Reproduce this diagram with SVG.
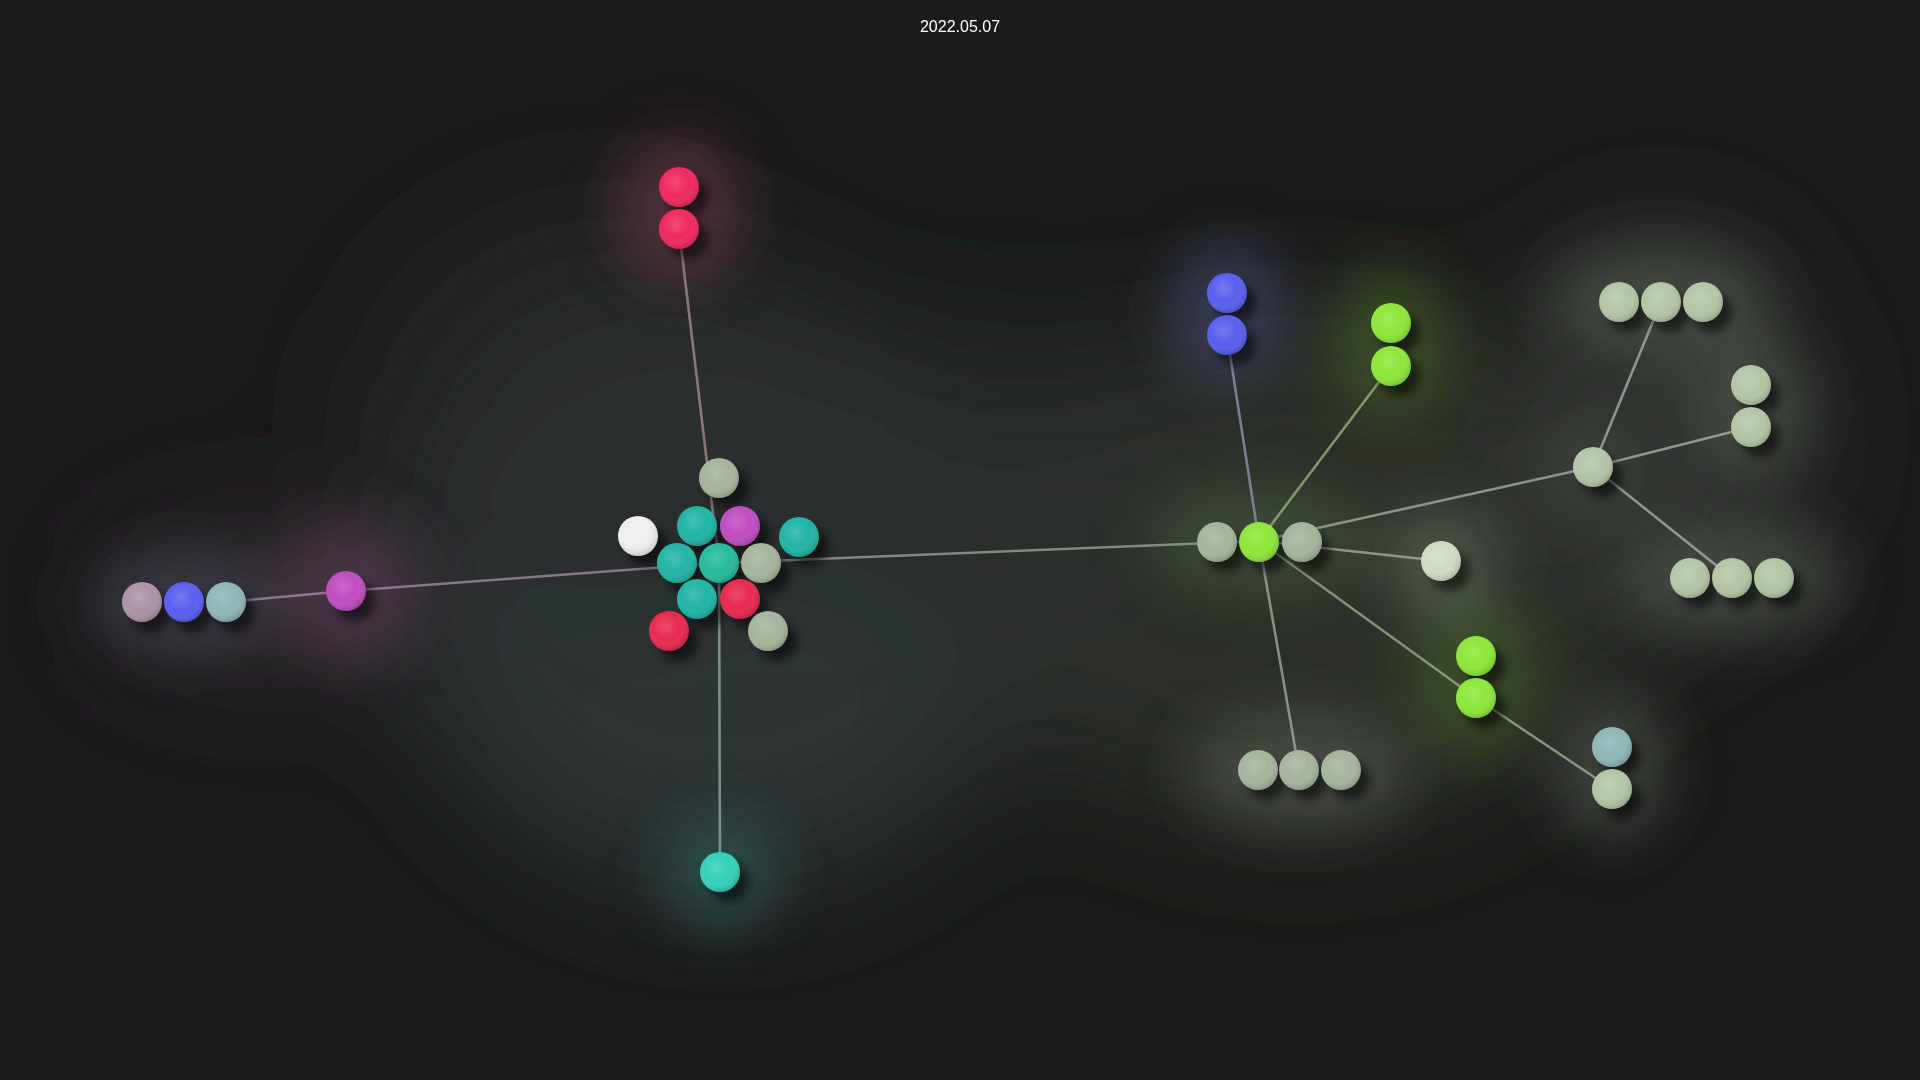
<svg xmlns="http://www.w3.org/2000/svg" width="1920" height="1080" viewBox="0 0 1920 1080">
<defs>
<filter id="bigblur" x="-100%" y="-100%" width="300%" height="300%"><feGaussianBlur stdDeviation="70"/></filter>
<filter id="glow" x="-100%" y="-100%" width="300%" height="300%"><feGaussianBlur stdDeviation="28"/></filter>
<filter id="shadow" x="-50%" y="-50%" width="200%" height="200%"><feGaussianBlur stdDeviation="5"/></filter>
<radialGradient id="shade" cx="0.42" cy="0.38" r="0.62">
<stop offset="0" stop-color="#ffffff" stop-opacity="0.16"/>
<stop offset="0.55" stop-color="#ffffff" stop-opacity="0"/>
<stop offset="1" stop-color="#000000" stop-opacity="0.15"/>
</radialGradient>
</defs>
<style>
.title{font-family:"Liberation Sans",Arial,sans-serif;font-size:16px;fill:#ffffff;}
.link{stroke-width:2.6;stroke-linecap:round;fill:none;opacity:0.8}
.sh{fill:#000;opacity:0.55;filter:url(#shadow)}
.ov{fill:url(#shade)}
.g{fill:#a5b59c}
.lg{fill:#b3c6a6}
.teal{fill:#22b5a6}
.tealc{fill:#27bb9e}
.mag{fill:#c04dc2}
.red{fill:#e82a50}
.pink{fill:#f02a5e}
.white{fill:#efefef}
.blue{fill:#5a5ff0}
.lime{fill:#8ee83a}
.pale{fill:#cfdcc4}
.pg{fill:#ad93a8}
.tg{fill:#8fb6b6}
.tb{fill:#33d1bb}
</style>
<rect width="1920" height="1080" fill="#1b1b1b"/>
<g filter="url(#bigblur)">
<ellipse cx="720" cy="590" rx="320" ry="300" fill="#313636" opacity="0.9"/>
<ellipse cx="600" cy="420" rx="250" ry="220" fill="#2b2f2f" opacity="0.6"/>
<ellipse cx="1300" cy="570" rx="340" ry="260" fill="#2e342c" opacity="0.85"/>
<ellipse cx="1000" cy="500" rx="200" ry="180" fill="#2a2f2b" opacity="0.6"/>
<ellipse cx="1660" cy="430" rx="150" ry="200" fill="#343834" opacity="0.8"/>
<ellipse cx="260" cy="600" rx="170" ry="80" fill="#2e292e" opacity="0.8"/>
</g>
<g filter="url(#glow)">
<ellipse cx="679" cy="208" rx="60" ry="70" fill="#7a3a4e" opacity="0.55"/>
<circle cx="346" cy="591" r="70" fill="#6a4060" opacity="0.5"/>
<ellipse cx="184" cy="602" rx="90" ry="50" fill="#4a4a58" opacity="0.6"/>
<ellipse cx="1227" cy="314" rx="55" ry="70" fill="#474e80" opacity="0.55"/>
<ellipse cx="1391" cy="345" rx="60" ry="75" fill="#4a6a2a" opacity="0.55"/>
<ellipse cx="1476" cy="677" rx="65" ry="80" fill="#4a6a2a" opacity="0.5"/>
<circle cx="720" cy="872" r="55" fill="#2f6a62" opacity="0.55"/>
<circle cx="1441" cy="561" r="55" fill="#6a7466" opacity="0.55"/>
<ellipse cx="1299" cy="770" rx="110" ry="55" fill="#5a6058" opacity="0.6"/>
<ellipse cx="1661" cy="302" rx="110" ry="55" fill="#5a6058" opacity="0.55"/>
<ellipse cx="1751" cy="406" rx="55" ry="70" fill="#5a6058" opacity="0.55"/>
<ellipse cx="1732" cy="578" rx="110" ry="55" fill="#5a6058" opacity="0.55"/>
<ellipse cx="1612" cy="768" rx="55" ry="70" fill="#5a6058" opacity="0.55"/>
<ellipse cx="1259" cy="541" rx="110" ry="55" fill="#4a5a40" opacity="0.6"/>
<circle cx="1593" cy="467" r="50" fill="#4a5048" opacity="0.5"/>
</g>
<g id="connectors">
<line class="link" x1="679" y1="229" x2="719" y2="563" stroke="#a08890"/>
<line class="link" x1="719" y1="563" x2="720" y2="872" stroke="#8fa8a4"/>
<line class="link" x1="719" y1="563" x2="346" y2="591" stroke="#9a8aa0"/>
<line class="link" x1="346" y1="591" x2="226" y2="602" stroke="#a08aa8"/>
<line class="link" x1="719" y1="563" x2="1259" y2="541" stroke="#98a094"/>
<line class="link" x1="1259" y1="541" x2="1227" y2="335" stroke="#8c92b0"/>
<line class="link" x1="1259" y1="541" x2="1391" y2="366" stroke="#98b07c"/>
<line class="link" x1="1259" y1="541" x2="1593" y2="467" stroke="#a4aaa2"/>
<line class="link" x1="1259" y1="541" x2="1441" y2="561" stroke="#a4aaa2"/>
<line class="link" x1="1259" y1="541" x2="1476" y2="698" stroke="#98aa84"/>
<line class="link" x1="1259" y1="541" x2="1299" y2="770" stroke="#a0a89a"/>
<line class="link" x1="1476" y1="698" x2="1612" y2="789" stroke="#a0ac90"/>
<line class="link" x1="1593" y1="467" x2="1661" y2="302" stroke="#a8aca8"/>
<line class="link" x1="1593" y1="467" x2="1751" y2="427" stroke="#a8aca8"/>
<line class="link" x1="1593" y1="467" x2="1732" y2="578" stroke="#a8aca8"/>
</g>
<g id="n-pink1"><circle class="sh" cx="688" cy="197" r="20"/><circle class="pink" cx="679" cy="187" r="20"/><circle class="ov" cx="679" cy="187" r="20"/></g>
<g id="n-pink2"><circle class="sh" cx="688" cy="239" r="20"/><circle class="pink" cx="679" cy="229" r="20"/><circle class="ov" cx="679" cy="229" r="20"/></g>
<g id="n-c-top"><circle class="sh" cx="728" cy="488" r="20"/><circle class="g" cx="719" cy="478" r="20"/><circle class="ov" cx="719" cy="478" r="20"/></g>
<g id="n-c-white"><circle class="sh" cx="647" cy="546" r="20"/><circle class="white" cx="638" cy="536" r="20"/><circle class="ov" cx="638" cy="536" r="20"/></g>
<g id="n-c-teal1"><circle class="sh" cx="706" cy="536" r="20"/><circle class="teal" cx="697" cy="526" r="20"/><circle class="ov" cx="697" cy="526" r="20"/></g>
<g id="n-c-mag"><circle class="sh" cx="749" cy="536" r="20"/><circle class="mag" cx="740" cy="526" r="20"/><circle class="ov" cx="740" cy="526" r="20"/></g>
<g id="n-c-tealr"><circle class="sh" cx="808" cy="547" r="20"/><circle class="teal" cx="799" cy="537" r="20"/><circle class="ov" cx="799" cy="537" r="20"/></g>
<g id="n-c-teal2"><circle class="sh" cx="686" cy="573" r="20"/><circle class="teal" cx="677" cy="563" r="20"/><circle class="ov" cx="677" cy="563" r="20"/></g>
<g id="n-c-center"><circle class="sh" cx="728" cy="573" r="20"/><circle class="tealc" cx="719" cy="563" r="20"/><circle class="ov" cx="719" cy="563" r="20"/></g>
<g id="n-c-grey"><circle class="sh" cx="770" cy="573" r="20"/><circle class="g" cx="761" cy="563" r="20"/><circle class="ov" cx="761" cy="563" r="20"/></g>
<g id="n-c-teal3"><circle class="sh" cx="706" cy="609" r="20"/><circle class="teal" cx="697" cy="599" r="20"/><circle class="ov" cx="697" cy="599" r="20"/></g>
<g id="n-c-red1"><circle class="sh" cx="749" cy="609" r="20"/><circle class="red" cx="740" cy="599" r="20"/><circle class="ov" cx="740" cy="599" r="20"/></g>
<g id="n-c-red2"><circle class="sh" cx="678" cy="641" r="20"/><circle class="red" cx="669" cy="631" r="20"/><circle class="ov" cx="669" cy="631" r="20"/></g>
<g id="n-c-grey2"><circle class="sh" cx="777" cy="641" r="20"/><circle class="g" cx="768" cy="631" r="20"/><circle class="ov" cx="768" cy="631" r="20"/></g>
<g id="n-tealbottom"><circle class="sh" cx="729" cy="882" r="20"/><circle class="tb" cx="720" cy="872" r="20"/><circle class="ov" cx="720" cy="872" r="20"/></g>
<g id="n-mag"><circle class="sh" cx="355" cy="601" r="20"/><circle class="mag" cx="346" cy="591" r="20"/><circle class="ov" cx="346" cy="591" r="20"/></g>
<g id="n-l-pg"><circle class="sh" cx="151" cy="612" r="20"/><circle class="pg" cx="142" cy="602" r="20"/><circle class="ov" cx="142" cy="602" r="20"/></g>
<g id="n-l-blue"><circle class="sh" cx="193" cy="612" r="20"/><circle class="blue" cx="184" cy="602" r="20"/><circle class="ov" cx="184" cy="602" r="20"/></g>
<g id="n-l-tg"><circle class="sh" cx="235" cy="612" r="20"/><circle class="tg" cx="226" cy="602" r="20"/><circle class="ov" cx="226" cy="602" r="20"/></g>
<g id="n-blue1"><circle class="sh" cx="1236" cy="303" r="20"/><circle class="blue" cx="1227" cy="293" r="20"/><circle class="ov" cx="1227" cy="293" r="20"/></g>
<g id="n-blue2"><circle class="sh" cx="1236" cy="345" r="20"/><circle class="blue" cx="1227" cy="335" r="20"/><circle class="ov" cx="1227" cy="335" r="20"/></g>
<g id="n-lime1"><circle class="sh" cx="1400" cy="333" r="20"/><circle class="lime" cx="1391" cy="323" r="20"/><circle class="ov" cx="1391" cy="323" r="20"/></g>
<g id="n-lime2"><circle class="sh" cx="1400" cy="376" r="20"/><circle class="lime" cx="1391" cy="366" r="20"/><circle class="ov" cx="1391" cy="366" r="20"/></g>
<g id="n-h-left"><circle class="sh" cx="1226" cy="552" r="20"/><circle class="g" cx="1217" cy="542" r="20"/><circle class="ov" cx="1217" cy="542" r="20"/></g>
<g id="n-hub"><circle class="sh" cx="1268" cy="552" r="20"/><circle class="lime" cx="1259" cy="542" r="20"/><circle class="ov" cx="1259" cy="542" r="20"/></g>
<g id="n-h-right"><circle class="sh" cx="1311" cy="552" r="20"/><circle class="g" cx="1302" cy="542" r="20"/><circle class="ov" cx="1302" cy="542" r="20"/></g>
<g id="n-pale"><circle class="sh" cx="1450" cy="571" r="20"/><circle class="pale" cx="1441" cy="561" r="20"/><circle class="ov" cx="1441" cy="561" r="20"/></g>
<g id="n-b1"><circle class="sh" cx="1267" cy="780" r="20"/><circle class="g" cx="1258" cy="770" r="20"/><circle class="ov" cx="1258" cy="770" r="20"/></g>
<g id="n-b2"><circle class="sh" cx="1308" cy="780" r="20"/><circle class="g" cx="1299" cy="770" r="20"/><circle class="ov" cx="1299" cy="770" r="20"/></g>
<g id="n-b3"><circle class="sh" cx="1350" cy="780" r="20"/><circle class="g" cx="1341" cy="770" r="20"/><circle class="ov" cx="1341" cy="770" r="20"/></g>
<g id="n-lime3"><circle class="sh" cx="1485" cy="666" r="20"/><circle class="lime" cx="1476" cy="656" r="20"/><circle class="ov" cx="1476" cy="656" r="20"/></g>
<g id="n-lime4"><circle class="sh" cx="1485" cy="708" r="20"/><circle class="lime" cx="1476" cy="698" r="20"/><circle class="ov" cx="1476" cy="698" r="20"/></g>
<g id="n-tg2"><circle class="sh" cx="1621" cy="757" r="20"/><circle class="tg" cx="1612" cy="747" r="20"/><circle class="ov" cx="1612" cy="747" r="20"/></g>
<g id="n-g2"><circle class="sh" cx="1621" cy="799" r="20"/><circle class="lg" cx="1612" cy="789" r="20"/><circle class="ov" cx="1612" cy="789" r="20"/></g>
<g id="n-rhub"><circle class="sh" cx="1602" cy="477" r="20"/><circle class="lg" cx="1593" cy="467" r="20"/><circle class="ov" cx="1593" cy="467" r="20"/></g>
<g id="n-t1"><circle class="sh" cx="1628" cy="312" r="20"/><circle class="lg" cx="1619" cy="302" r="20"/><circle class="ov" cx="1619" cy="302" r="20"/></g>
<g id="n-t2"><circle class="sh" cx="1670" cy="312" r="20"/><circle class="lg" cx="1661" cy="302" r="20"/><circle class="ov" cx="1661" cy="302" r="20"/></g>
<g id="n-t3"><circle class="sh" cx="1712" cy="312" r="20"/><circle class="lg" cx="1703" cy="302" r="20"/><circle class="ov" cx="1703" cy="302" r="20"/></g>
<g id="n-r1"><circle class="sh" cx="1760" cy="395" r="20"/><circle class="lg" cx="1751" cy="385" r="20"/><circle class="ov" cx="1751" cy="385" r="20"/></g>
<g id="n-r2"><circle class="sh" cx="1760" cy="437" r="20"/><circle class="lg" cx="1751" cy="427" r="20"/><circle class="ov" cx="1751" cy="427" r="20"/></g>
<g id="n-br1"><circle class="sh" cx="1699" cy="588" r="20"/><circle class="lg" cx="1690" cy="578" r="20"/><circle class="ov" cx="1690" cy="578" r="20"/></g>
<g id="n-br2"><circle class="sh" cx="1741" cy="588" r="20"/><circle class="lg" cx="1732" cy="578" r="20"/><circle class="ov" cx="1732" cy="578" r="20"/></g>
<g id="n-br3"><circle class="sh" cx="1783" cy="588" r="20"/><circle class="lg" cx="1774" cy="578" r="20"/><circle class="ov" cx="1774" cy="578" r="20"/></g>
<text class="title" x="960" y="32" text-anchor="middle">2022.05.07</text>
</svg>
